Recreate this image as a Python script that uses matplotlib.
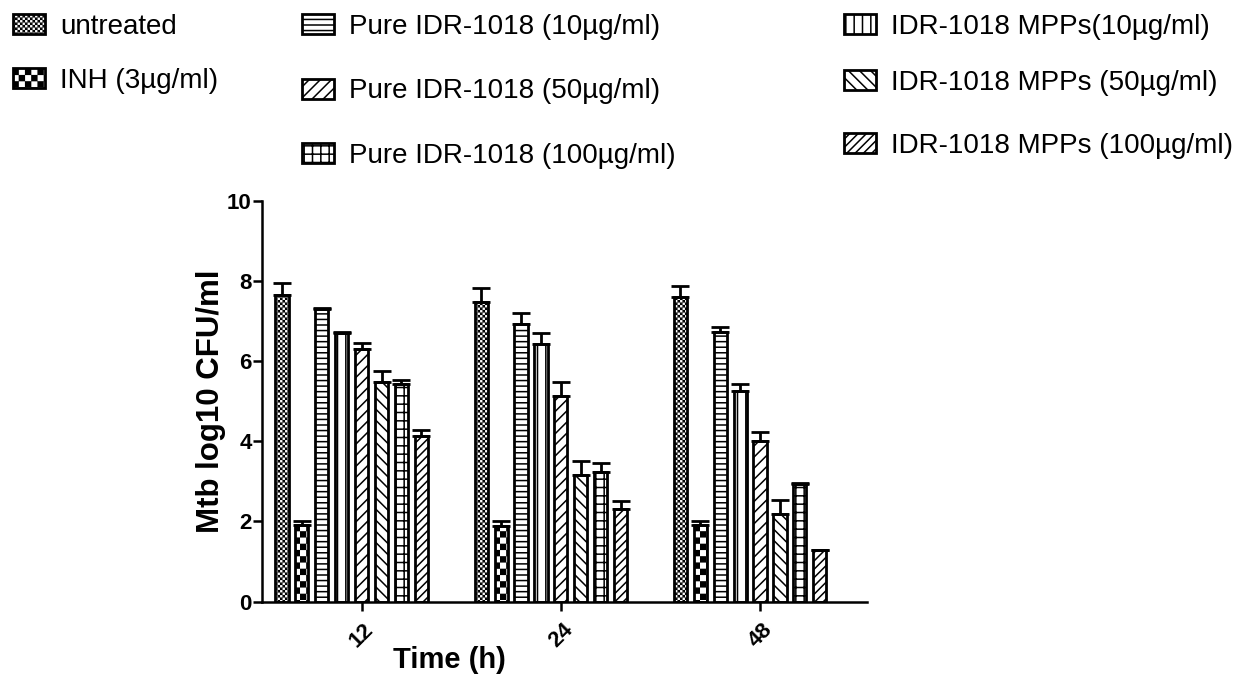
import numpy as np
import matplotlib
matplotlib.use("Agg")
import matplotlib.pyplot as plt
import matplotlib.hatch as mhatch
from matplotlib.path import Path

# ---------------- data ----------------
time_labels = ["12", "24", "48"]
series_names = ["untreated", "INH (3µg/ml)",
                "Pure IDR-1018 (10µg/ml)", "IDR-1018 MPPs(10µg/ml)",
                "Pure IDR-1018 (50µg/ml)", "IDR-1018 MPPs (50µg/ml)",
                "Pure IDR-1018 (100µg/ml)", "IDR-1018 MPPs (100µg/ml)"]
untreated = [7.65, 7.47, 7.59]
untreated_err = [0.30, 0.35, 0.28]
inh = [1.90, 1.88, 1.90]
inh_err = [0.10, 0.12, 0.11]
pure10 = [7.30, 6.92, 6.72]
pure10_err = [0.02, 0.27, 0.12]
mpps10 = [6.69, 6.43, 5.26]
mpps10_err = [0.03, 0.26, 0.16]
pure50 = [6.30, 5.13, 4.01]
pure50_err = [0.15, 0.35, 0.22]
mpps50 = [5.48, 3.15, 2.18]
mpps50_err = [0.27, 0.37, 0.35]
pure100 = [5.42, 3.23, 2.94]
pure100_err = [0.10, 0.23, 0.02]
mpps100 = [4.13, 2.30, 1.29]
mpps100_err = [0.14, 0.20, 0.00]

values = [untreated, inh, pure10, mpps10, pure50, mpps50, pure100, mpps100]
errors = [untreated_err, inh_err, pure10_err, mpps10_err,
          pure50_err, mpps50_err, pure100_err, mpps100_err]


# ------------- custom checkerboard hatches -------------
class _Checker(mhatch.HatchPatternBase):
    char = "O"
    cells = 16
    shrink = 0.11

    def __init__(self, hatch, density):
        on = hatch is not None and hatch.count(self.char) > 0
        n = self.cells
        self.num_vertices = ((n * n) // 2) * 5 if on else 0

    def set_vertices_and_codes(self, vertices, codes):
        n = self.cells
        s = 1.0 / n
        d = self.shrink * s
        k = 0
        for i in range(n):
            for j in range(n):
                if (i + j) % 2:
                    continue
                x0, y0 = i * s + d, j * s + d
                x1, y1 = (i + 1) * s - d, (j + 1) * s - d
                vertices[k:k + 5] = [[x0, y0], [x1, y0], [x1, y1], [x0, y1], [x0, y0]]
                codes[k:k + 5] = [Path.MOVETO, Path.LINETO, Path.LINETO,
                                  Path.LINETO, Path.CLOSEPOLY]
                k += 5


class _BigChecker(_Checker):
    char = "O"
    cells = 16
    shrink = 0.11


class _FineChecker(_Checker):
    char = "o"
    cells = 40
    shrink = 0.28


mhatch._hatch_types[:] = [t for t in mhatch._hatch_types
                          if t not in (mhatch.LargeCircles, mhatch.SmallCircles)]
mhatch._hatch_types.extend([_BigChecker, _FineChecker])

plt.rcParams["font.family"] = ["Liberation Sans", "DejaVu Sans"]
plt.rcParams["hatch.linewidth"] = 1.1
plt.rcParams["hatch.color"] = "black"

hatches = ["o", "O", "---", "||", "///", "\\\\\\", "++", "////"]

# ---------------- figure ----------------
fig = plt.figure(figsize=(12.4, 6.74), dpi=100)
ax = fig.add_axes([0.2110, 0.1073, 0.4879, 0.5950])

group_pos = np.arange(len(time_labels)) * 10.0
bar_w = 0.66
containers = []
for i, (vals, errs, h, name) in enumerate(zip(values, errors, hatches, series_names)):
    x = group_pos + (i - 4)
    bc = ax.bar(x, vals, width=bar_w, facecolor="white", edgecolor="black",
                linewidth=2.0, hatch=h, label=name, zorder=2)
    containers.append(bc)
    ax.errorbar(x, vals, yerr=[np.zeros(len(vals)), errs], fmt="none",
                ecolor="black", elinewidth=2.0, capsize=6.5, capthick=2.0, zorder=3)

ax.set_xlim(-5.02, 25.35)
ax.set_ylim(0, 10)
ax.set_yticks([0, 2, 4, 6, 8, 10])
ax.set_xticks(group_pos)
ax.set_xticklabels(time_labels, rotation=45, ha="center")

for s in ["top", "right"]:
    ax.spines[s].set_visible(False)
for s in ["left", "bottom"]:
    ax.spines[s].set_linewidth(1.8)

ax.tick_params(axis="y", direction="out", length=6.3, width=1.8, pad=1,
               labelsize=16)
ax.tick_params(axis="x", direction="out", length=6.3, width=1.8, pad=6,
               labelsize=16)
for lab in ax.get_xticklabels() + ax.get_yticklabels():
    lab.set_fontweight("bold")

ax.set_ylabel("Mtb log10 CFU/ml", fontsize=22.5, fontweight="bold")
ax.yaxis.set_label_coords(-0.059, 0.5)
ax.set_xlabel("Time (h)", fontsize=21, fontweight="bold")
ax.xaxis.set_label_coords(0.311, -0.110)

# ---------------- legend (individual entries) ----------------
legend_spots = [
    (0, 13, 26.5), (1, 13, 81.0),
    (2, 302, 26.5), (4, 302, 91.5), (6, 302, 156.0),
    (3, 844, 27.0), (5, 844, 82.5), (7, 844, 146.0),
]
W, H = 1240.0, 674.0
for idx, px, py in legend_spots:
    handle = containers[idx].patches[0]
    fig.legend([handle], [series_names[idx]], loc="center left",
               bbox_to_anchor=(px / W, 1 - py / H), bbox_transform=fig.transFigure,
               frameon=False, borderpad=0, borderaxespad=0,
               handlelength=1.15, handleheight=0.72, handletextpad=0.55,
               fontsize=20)

fig.savefig("out.png", dpi=100)
